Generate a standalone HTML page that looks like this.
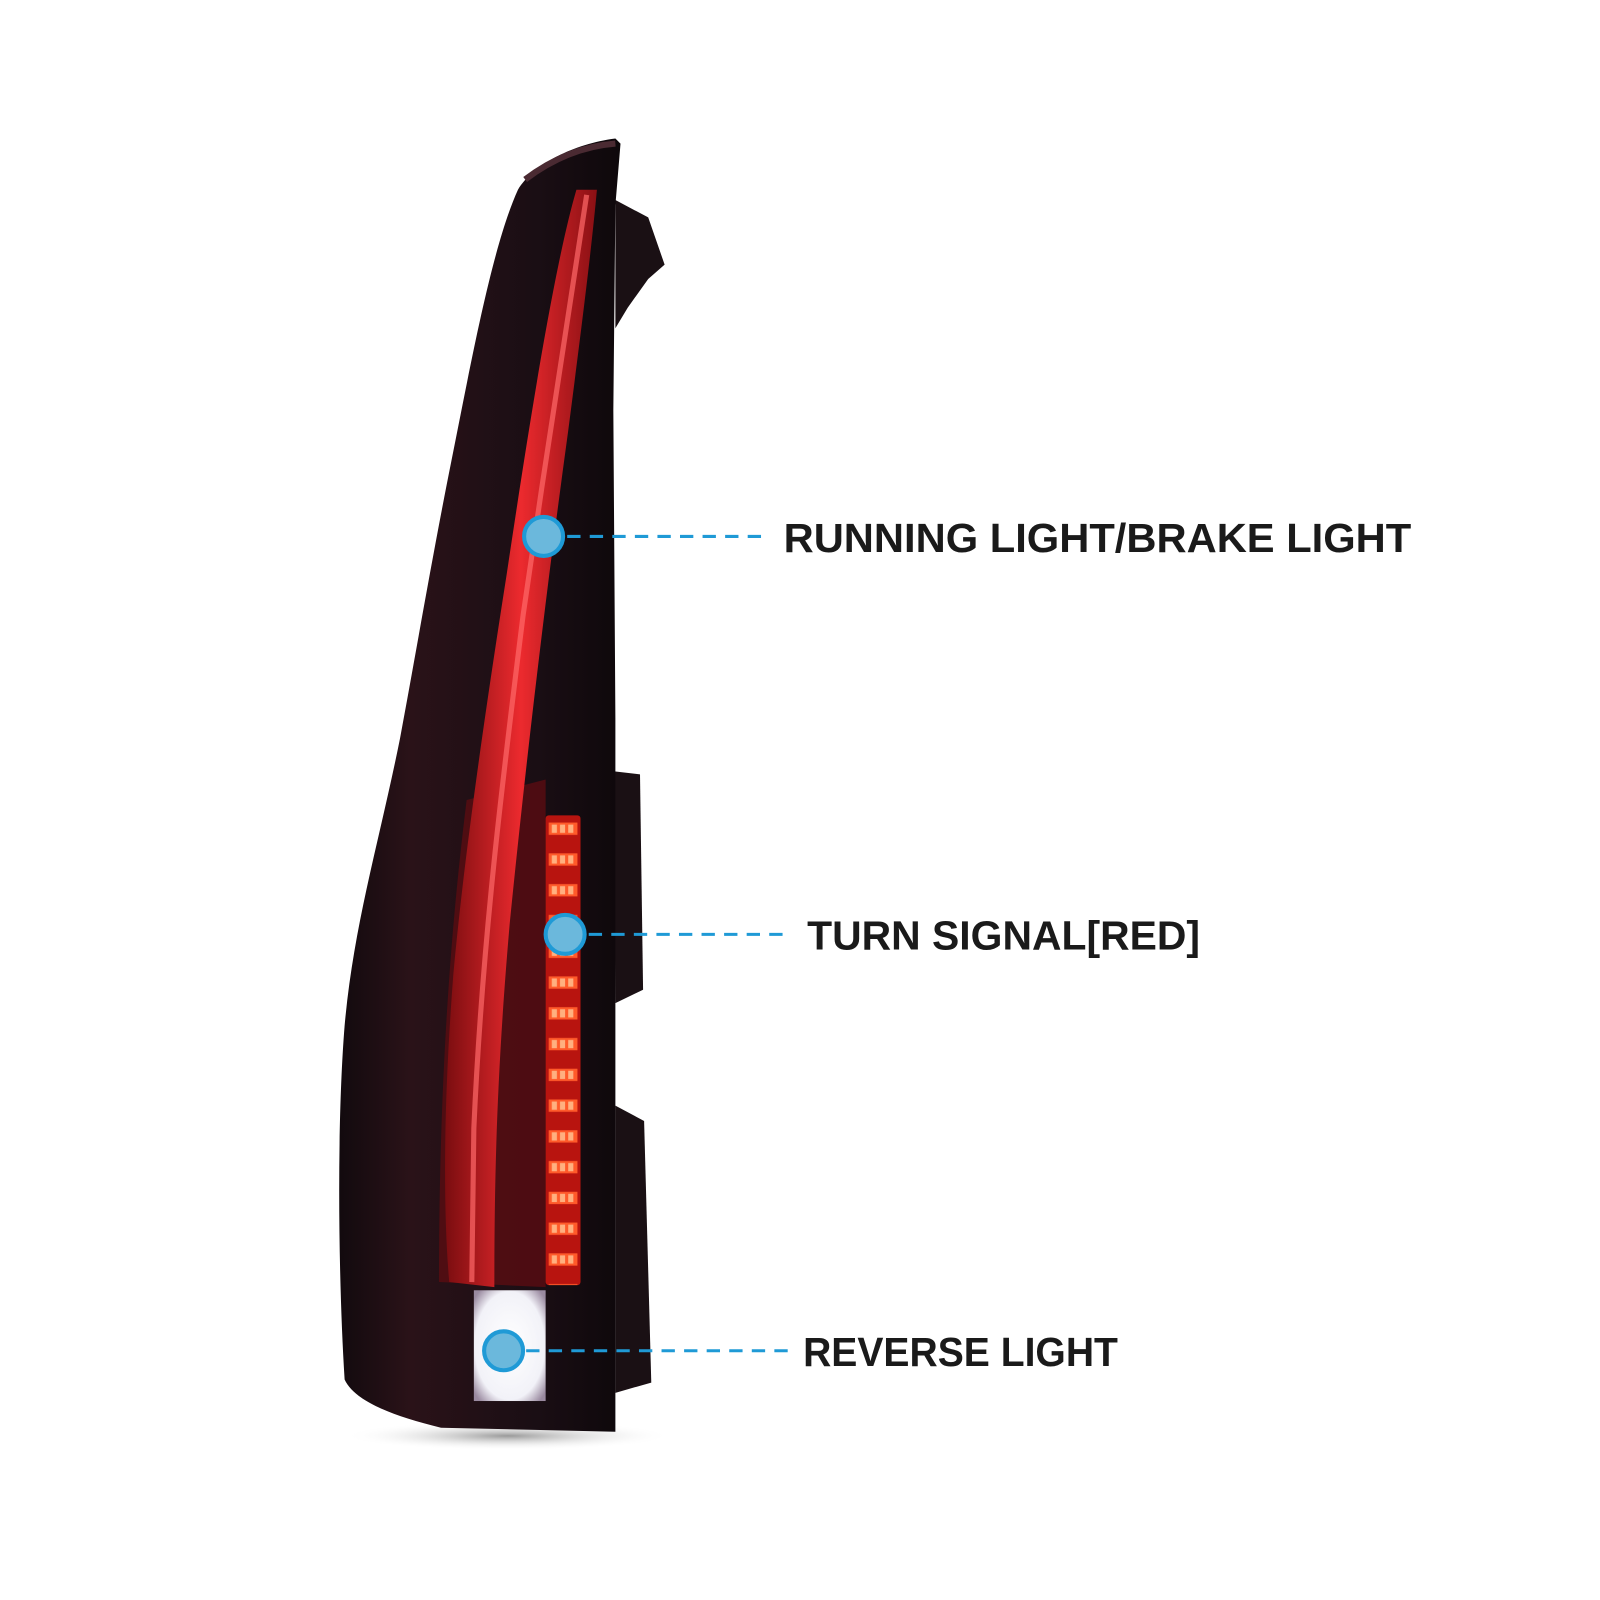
<!DOCTYPE html>
<html><head><meta charset="utf-8"><style>
html,body{margin:0;padding:0;background:#fff;}
svg{display:block;}
</style></head><body>
<svg width="1600" height="1600" viewBox="0 0 1560 1560" xmlns="http://www.w3.org/2000/svg">
<defs>
<linearGradient id="body" x1="0" x2="1" y1="0" y2="0">
<stop offset="0" stop-color="#120a0e"/><stop offset="0.25" stop-color="#2a1218"/><stop offset="0.7" stop-color="#1a0e14"/><stop offset="1" stop-color="#0e080b"/>
</linearGradient>
<linearGradient id="red" x1="0" x2="1">
<stop offset="0" stop-color="#7a0d10"/><stop offset="0.5" stop-color="#ec2a2e"/><stop offset="1" stop-color="#8a1014"/>
</linearGradient>
<radialGradient id="sh" cx="0.5" cy="0.5" r="0.5"><stop offset="0" stop-color="#999"/><stop offset="1" stop-color="#fff" stop-opacity="0"/></radialGradient>
<radialGradient id="wh" cx="0.5" cy="0.5" r="0.65"><stop offset="0" stop-color="#fff"/><stop offset="0.75" stop-color="#f2f2f8"/><stop offset="1" stop-color="#9a8aa0"/></radialGradient>
<pattern id="led" x="532" y="795" width="34" height="30" patternUnits="userSpaceOnUse">
<rect width="34" height="30" fill="#b8140f"/>
<rect x="3" y="7" width="28" height="12" fill="#ff5a2a"/>
<rect x="6" y="9" width="5" height="8" fill="#ffb080"/><rect x="14" y="9" width="5" height="8" fill="#ffb080"/><rect x="22" y="9" width="5" height="8" fill="#ffb080"/>
</pattern>
</defs>
<ellipse cx="495" cy="1400" rx="160" ry="14" fill="url(#sh)"/>
<path d="M600,195 L632,212 L648,258 L632,272 L612,300 L600,320 Z" fill="#1a1014"/>
<path d="M598,752 L624,755 L627,965 L600,978 Z" fill="#1a1014"/>
<path d="M600,1078 L628,1093 L635,1348 L600,1358 Z" fill="#1a1014"/>
<path d="M600,135 C560,140 520,160 505,185 C480,240 460,350 440,450 C420,550 405,640 390,720 C370,820 345,900 336,1000 C328,1100 330,1250 336,1345 C345,1365 380,1380 430,1392 L600,1396 L600,1200 L600,700 L598,400 L600,200 L605,140 Z" fill="url(#body)"/>
<path d="M512,175 C545,150 575,142 600,140" stroke="#4a2a32" stroke-width="6" fill="none"/>
<path d="M455,780 C440,900 428,1050 428,1250 L532,1255 L532,760 Z" fill="#5a0c12" opacity="0.8"/>
<path d="M562,185 C540,260 515,420 494,560 C472,700 452,840 442,950 C432,1080 432,1180 438,1250 L482,1255 C482,1150 484,1050 497,900 C512,750 532,580 554,420 C567,320 577,240 582,185 Z" fill="url(#red)"/>
<path d="M572,190 C555,300 530,460 510,600 C490,760 470,920 462,1100 L460,1250" stroke="#ff6a6a" stroke-width="5" fill="none" opacity="0.7"/>
<rect x="532" y="795" width="34" height="458" fill="url(#led)" rx="3"/>
<rect x="462" y="1258" width="70" height="108" fill="url(#wh)"/>
<g stroke="#1f9ad6" stroke-width="3" stroke-dasharray="13,9" fill="none">
<line x1="553" y1="523" x2="748" y2="523"/>
<line x1="574" y1="911" x2="770" y2="911"/>
<line x1="513" y1="1317" x2="768" y2="1317"/>
</g>
<g fill="#6bb8dc" stroke="#1f9ad6" stroke-width="4">
<circle cx="530" cy="523" r="19"/>
<circle cx="551" cy="911" r="19"/>
<circle cx="491" cy="1317" r="19"/>
</g>
<g font-family="Liberation Sans, sans-serif" font-weight="bold" font-size="40" fill="#1a1a1a">
<text x="764" y="538" textLength="612" lengthAdjust="spacingAndGlyphs">RUNNING LIGHT/BRAKE LIGHT</text>
<text x="787" y="926" textLength="383" lengthAdjust="spacingAndGlyphs">TURN SIGNAL[RED]</text>
<text x="783" y="1332" textLength="307" lengthAdjust="spacingAndGlyphs">REVERSE LIGHT</text>
</g>
</svg>
</body></html>
